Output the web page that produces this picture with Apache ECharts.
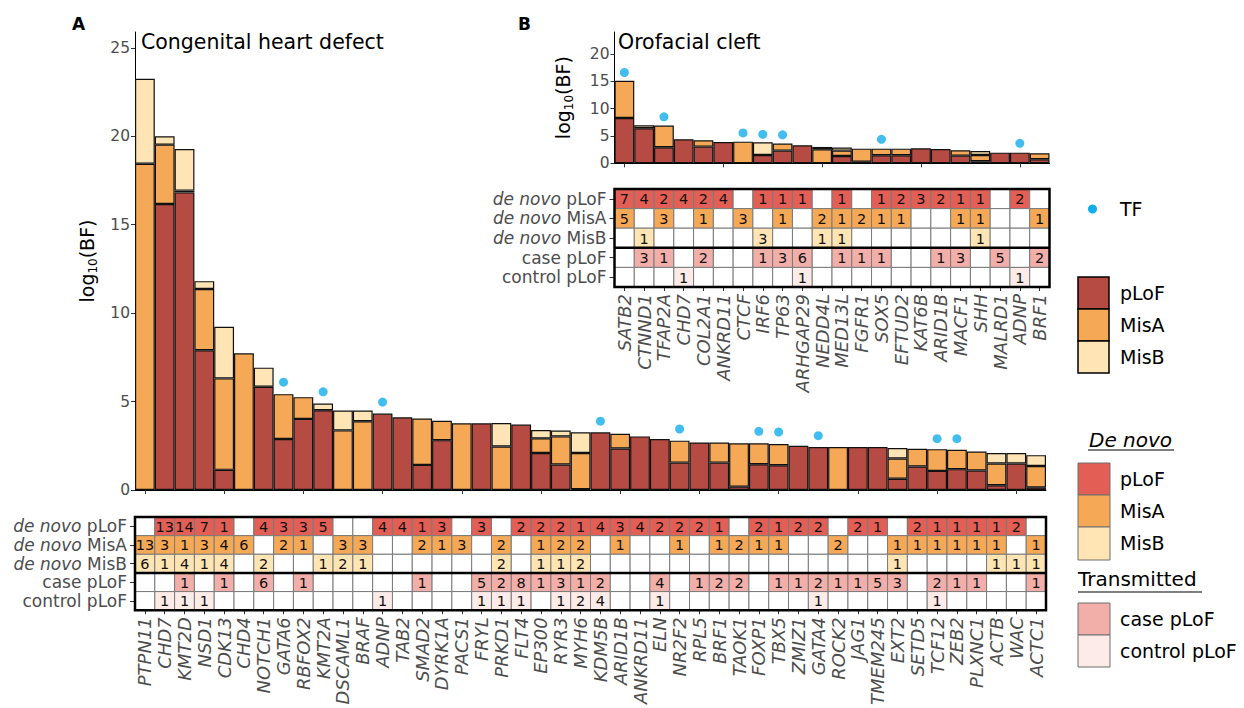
<!DOCTYPE html>
<html>
<head>
<meta charset="utf-8">
<script src="https://cdn.jsdelivr.net/npm/echarts@6/dist/echarts.min.js"></script>
<style>
html,body{margin:0;padding:0;background:#fff;}
#chart{width:1244px;height:708px;}
</style>
</head>
<body>
<div id="chart"></div>
<script>
// ---------------- Panel A: Congenital heart defect ----------------
const genesA = ['PTPN11','CHD7','KMT2D','NSD1','CDK13','CHD4','NOTCH1','GATA6','RBFOX2','KMT2A',
  'DSCAML1','BRAF','ADNP','TAB2','SMAD2','DYRK1A','PACS1','FRYL','PRKD1','FLT4',
  'EP300','RYR3','MYH6','KDM5B','ARID1B','ANKRD11','ELN','NR2F2','RPL5','BRF1',
  'TAOK1','FOXP1','TBX5','ZMIZ1','GATA4','ROCK2','JAG1','TMEM245','EXT2','SETD5',
  'TCF12','ZEB2','PLXNC1','ACTB','WAC','ACTC1'];
const plofA = [0,16.17,16.83,7.9,1.14,0,5.84,2.88,4.02,4.51,
  0,0,4.32,4.11,1.42,2.82,0,3.77,0,3.70,
  2.09,1.44,0.05,3.26,2.35,3.03,2.88,1.55,2.69,1.55,
  0.19,1.46,1.40,2.50,2.43,0,2.43,2.43,0.64,1.33,
  1.08,1.18,1.10,0.27,1.50,0.15];
const misAA = [18.45,3.36,0.1,3.47,5.17,7.73,0,2.54,1.23,0,
  3.37,3.89,0,0,2.62,1.10,3.77,0,2.46,0,
  0.83,1.59,2.04,0,0.83,0,0,1.24,0,1.14,
  2.45,1.18,1.20,0,0,2.43,0,0,1.14,1.00,
  1.23,1.09,1.08,1.23,0,1.21];
const misBA = [4.81,0.47,2.35,0.44,2.92,0,1.08,0,0,0.38,
  1.12,0.60,0,0,0,0,0,0,1.33,0,
  0.47,0.33,1.17,0,0,0,0,0,0,0,
  0,0,0,0,0,0,0,0,0.59,0,
  0,0,0,0.59,0.59,0.61];
const tfGenesA = ['GATA6','KMT2A','ADNP','KDM5B','NR2F2','FOXP1','TBX5','GATA4','TCF12','ZEB2'];
const tfYA = [6.1,5.55,4.97,3.89,3.45,3.32,3.28,3.07,2.9,2.9];

const dnPlofA = [0,13,14,7,1,0,4,3,3,5, 0,0,4,4,1,3,0,3,0,2, 2,2,1,4,3,4,2,2,2,1, 0,2,1,2,2,0,2,1,0,2, 1,1,1,1,2,0];
const dnMisAA = [13,3,1,3,4,6,0,2,1,0, 3,3,0,0,2,1,3,0,2,0, 1,2,2,0,1,0,0,1,0,1, 2,1,1,0,0,2,0,0,1,1, 1,1,1,1,0,1];
const dnMisBA = [6,1,4,1,4,0,2,0,0,1, 2,1,0,0,0,0,0,0,2,0, 1,1,2,0,0,0,0,0,0,0, 0,0,0,0,0,0,0,0,1,0, 0,0,0,1,1,1];
const casePlofA = [0,0,1,0,1,0,6,0,1,0, 0,0,0,0,1,0,0,5,2,8, 1,3,1,2,0,0,4,0,1,2, 2,0,1,1,2,1,1,5,3,0, 2,1,1,0,0,1];
const ctrlPlofA = [0,1,1,1,0,0,0,0,0,0, 0,0,1,0,0,0,0,1,1,1, 0,1,2,4,0,0,1,0,0,0, 0,0,0,0,1,0,0,0,0,0, 1,0,0,0,0,0];

// ---------------- Panel B: Orofacial cleft ----------------
const genesB = ['SATB2','CTNND1','TFAP2A','CHD7','COL2A1','ANKRD11','CTCF','IRF6','TP63','ARHGAP29',
  'NEDD4L','MED13L','FGFR1','SOX5','EFTUD2','KAT6B','ARID1B','MACF1','SHH','MALRD1','ADNP','BRF1'];
const plofB = [8.29,6.4,2.93,4.39,3.05,3.9,0,1.52,2.32,3.29, 0,1.34,0.3,1.46,1.46,2.74,2.62,1.4,0.37,1.95, 1.95,0.73];
const misAB = [6.81,0,3.96,0,1.15,0,3.96,0,1.28,0, 2.56,0.98,2.38,1.22,1.22,0,0,0.98,1.15,0, 0,1.10];
const misBB = [0,0.55,0,0,0,0,0,2.32,0,0, 0.43,0.55,0,0,0,0,0,0,0.74,0, 0,0];
const tfGenesB = ['SATB2','TFAP2A','CTCF','IRF6','TP63','SOX5','ADNP'];
const tfYB = [16.6,8.5,5.55,5.3,5.2,4.39,3.66];

const dnPlofB = [7,4,2,4,2,4,0,1,1,1, 0,1,0,1,2,3,2,1,1,0, 2,0];
const dnMisAB = [5,0,3,0,1,0,3,0,1,0, 2,1,2,1,1,0,0,1,1,0, 0,1];
const dnMisBB = [0,1,0,0,0,0,0,3,0,0, 1,1,0,0,0,0,0,0,1,0, 0,0];
const casePlofB = [0,3,1,0,2,0,0,1,3,6, 0,1,1,1,0,0,1,3,0,5, 0,2];
const ctrlPlofB = [0,0,0,1,0,0,0,0,0,1, 0,0,0,0,0,0,0,0,0,0, 1,0];

const rowLabels = ['de novo pLoF','de novo MisA','de novo MisB','case pLoF','control pLoF'];
const yTicksA = [0,5,10,15,20,25];
const yTicksB = [0,5,10,15,20];

// ---------------- styling ----------------
const FONT = 'DejaVu Sans';
const AXTXT = '#4d4d4d';
const COL = {plof:'#B54B43', misA:'#F5A957', misB:'#FFE5B5', tf:'#13ADEC'};
const TILE = ['#E35F56','#F5A957','#FFE4B4','#F2AFA9','#FCEBE8'];

function nz(arr){ return arr.map(v => v > 0 ? v : null); }

function barSeries(data, color, xi, yi, stack){
  return {type:'bar', xAxisIndex:xi, yAxisIndex:yi, stack:stack, data:nz(data),
    barCategoryGap:'0%', barGap:'0%',
    itemStyle:{color:color, borderColor:'#111', borderWidth:1.2},
    emphasis:{disabled:true}, z:2};
}

function tileData(rows){
  const out = [];
  rows.forEach((row, r) => row.forEach((n, i) => out.push([i, r, n])));
  return out;
}

function tileRender(params, api){
  const xi = api.value(0), yi = api.value(1), n = api.value(2);
  const c = api.coord([xi, yi]);
  const s = api.size([1, 1]);
  const w = s[0], h = s[1];
  const children = [{type:'rect', shape:{x:c[0]-w/2, y:c[1]-h/2, width:w, height:h},
    style:{fill: n > 0 ? TILE[yi] : '#ffffff', stroke:'#7a7a7a', lineWidth:1}}];
  if (n > 0) children.push({type:'text', style:{text:String(n), x:c[0], y:c[1]+0.5, align:'center',
    verticalAlign:'middle', fontSize:14.5, fontFamily:FONT, fill:'#111'}});
  return {type:'group', children:children};
}

function frameRender(params, api){
  const cs = params.coordSys;
  const rh = cs.height / 5;
  return {type:'group', children:[
    {type:'rect', shape:{x:cs.x, y:cs.y, width:cs.width, height:cs.height}, style:{fill:'none', stroke:'#000', lineWidth:2.5}},
    {type:'line', shape:{x1:cs.x, y1:cs.y+3*rh, x2:cs.x+cs.width, y2:cs.y+3*rh}, style:{stroke:'#000', lineWidth:2.5}}
  ]};
}

const yName = {
  name:'{a|log}{s|10}{a|(BF)}',
  nameLocation:'middle', nameRotate:90,
  nameTextStyle:{rich:{
    a:{fontSize:19, fontFamily:FONT, color:'#000', lineHeight:24, verticalAlign:'middle'},
    s:{fontSize:12, fontFamily:FONT, color:'#000', lineHeight:24, verticalAlign:'bottom'}
  }}
};

function valueY(grid, max, ticks, gap){
  return Object.assign({}, yName, {
    type:'value', gridIndex:grid, min:0, max:max, interval:5, nameGap:gap,
    axisLine:{show:true, lineStyle:{color:'#000', width:1}},
    axisTick:{show:true, length:4, lineStyle:{color:'#333'}, customValues:ticks},
    axisLabel:{color:AXTXT, fontSize:15.5, fontFamily:FONT, margin:5, customValues:ticks,
      formatter:(v)=> (v % 5 === 0 ? String(v) : '')},
    splitLine:{show:false}
  });
}

function barX(grid, genes){
  return {type:'category', gridIndex:grid, data:genes, boundaryGap:true,
    axisLine:{show:true, lineStyle:{color:'#000', width:1}},
    axisTick:{show:true, alignWithLabel:true, length:4, lineStyle:{color:'#333'}},
    axisLabel:{show:false}, splitLine:{show:false}};
}

function tableX(grid, genes){
  return {type:'category', gridIndex:grid, data:genes, boundaryGap:true,
    axisLine:{show:false},
    axisTick:{show:true, alignWithLabel:true, interval:0, length:4, lineStyle:{color:'#333'}},
    axisLabel:{interval:0, rotate:90, margin:7, color:AXTXT, fontSize:18, fontStyle:'italic', fontFamily:FONT},
    splitLine:{show:false}};
}

function tableY(grid){
  return {type:'category', gridIndex:grid, data:rowLabels, inverse:true,
    axisLine:{show:false},
    axisTick:{show:true, alignWithLabel:true, interval:0, length:5, lineStyle:{color:'#333'}},
    axisLabel:{interval:0, margin:8, color:AXTXT, fontSize:17, fontFamily:FONT,
      formatter:(v)=> v.indexOf('de novo ') === 0 ? '{i|de novo} {n|' + v.slice(8) + '}' : '{n|' + v + '}',
      rich:{i:{fontStyle:'italic', fontSize:17, fontFamily:FONT, color:AXTXT},
            n:{fontSize:17, fontFamily:FONT, color:AXTXT}}},
    splitLine:{show:false}};
}

function txt(x, y, text, size){
  return {type:'text', x:x, y:y, silent:true,
    style:{text:text, fontSize:size, fontFamily:FONT, fill:'#000', verticalAlign:'middle', align:'left'}};
}
function key(x, y, w, h, fill, stroke, lw){
  return {type:'rect', silent:true, shape:{x:x, y:y, width:w, height:h}, style:{fill:fill, stroke:stroke, lineWidth:lw}};
}

const graphics = [
  {type:'text', x:72, y:24, silent:true, style:{text:'A', fontSize:17, fontWeight:'bold', fontFamily:FONT, fill:'#000', verticalAlign:'middle'}},
  {type:'text', x:518, y:24, silent:true, style:{text:'B', fontSize:17, fontWeight:'bold', fontFamily:FONT, fill:'#000', verticalAlign:'middle'}},
  txt(141, 42, 'Congenital heart defect', 20.5),
  txt(618, 42, 'Orofacial cleft', 20.5),
  // TF legend
  {type:'circle', silent:true, shape:{cx:1092.5, cy:209, r:4.5}, style:{fill:COL.tf}},
  txt(1120, 209, 'TF', 19),
  // bar fill legend
  key(1078, 277, 31, 32, COL.plof, '#000', 1.5),
  key(1078, 309, 31, 32, COL.misA, '#000', 1.5),
  key(1078, 341, 31, 32, COL.misB, '#000', 1.5),
  txt(1120, 293, 'pLoF', 19),
  txt(1120, 325, 'MisA', 19),
  txt(1120, 357, 'MisB', 19),
  // de novo legend
  {type:'text', x:1089, y:440, silent:true, style:{text:'De novo', fontSize:20, fontStyle:'italic', fontFamily:FONT, fill:'#000', verticalAlign:'middle'}},
  {type:'line', silent:true, shape:{x1:1088, y1:450, x2:1174, y2:450}, style:{stroke:'#000', lineWidth:1.2}},
  key(1078, 463, 32, 32, TILE[0], '#6e6e6e', 1),
  key(1078, 495, 32, 32, TILE[1], '#6e6e6e', 1),
  key(1078, 527, 32, 33, TILE[2], '#6e6e6e', 1),
  txt(1120, 479, 'pLoF', 19),
  txt(1120, 511, 'MisA', 19),
  txt(1120, 543, 'MisB', 19),
  txt(1078, 579, 'Transmitted', 20),
  {type:'line', silent:true, shape:{x1:1078, y1:592, x2:1202, y2:592}, style:{stroke:'#000', lineWidth:1.2}},
  key(1078, 603, 32, 32, TILE[3], '#6e6e6e', 1),
  key(1078, 635, 32, 32, TILE[4], '#6e6e6e', 1),
  txt(1120, 619, 'case pLoF', 19),
  txt(1120, 651, 'control pLoF', 19)
];

const option = {
  animation:false,
  backgroundColor:'#ffffff',
  textStyle:{fontFamily:FONT},
  grid:[
    {left:135, top:32, width:911, height:458},
    {left:135, top:517, width:911, height:97},
    {left:614.5, top:32, width:435, height:131.3},
    {left:614.5, top:189, width:435, height:98}
  ],
  xAxis:[ barX(0, genesA), tableX(1, genesA), barX(2, genesB), tableX(3, genesB) ],
  yAxis:[ valueY(0, 25.9, yTicksA, 23), tableY(1), valueY(2, 24, yTicksB, 40), tableY(3) ],
  series:[
    barSeries(plofA, COL.plof, 0, 0, 'A'),
    barSeries(misAA, COL.misA, 0, 0, 'A'),
    barSeries(misBA, COL.misB, 0, 0, 'A'),
    {type:'scatter', xAxisIndex:0, yAxisIndex:0, data:tfGenesA.map((g,i)=>[g, tfYA[i]]),
      symbolSize:9, itemStyle:{color:COL.tf}, z:5, emphasis:{disabled:true}},
    {type:'custom', xAxisIndex:1, yAxisIndex:1, data:tileData([dnPlofA, dnMisAA, dnMisBA, casePlofA, ctrlPlofA]),
      encode:{x:0, y:1}, renderItem:tileRender, z:2},
    {type:'custom', xAxisIndex:1, yAxisIndex:1, data:[[0,0]], encode:{x:0, y:1}, renderItem:frameRender, z:4},
    barSeries(plofB, COL.plof, 2, 2, 'B'),
    barSeries(misAB, COL.misA, 2, 2, 'B'),
    barSeries(misBB, COL.misB, 2, 2, 'B'),
    {type:'scatter', xAxisIndex:2, yAxisIndex:2, data:tfGenesB.map((g,i)=>[g, tfYB[i]]),
      symbolSize:9, itemStyle:{color:COL.tf}, z:5, emphasis:{disabled:true}},
    {type:'custom', xAxisIndex:3, yAxisIndex:3, data:tileData([dnPlofB, dnMisAB, dnMisBB, casePlofB, ctrlPlofB]),
      encode:{x:0, y:1}, renderItem:tileRender, z:2},
    {type:'custom', xAxisIndex:3, yAxisIndex:3, data:[[0,0]], encode:{x:0, y:1}, renderItem:frameRender, z:4}
  ],
  graphic:graphics
};

const chart = echarts.init(document.getElementById('chart'), null, {renderer:'svg', width:1244, height:708});
chart.setOption(option);
</script>
</body>
</html>
